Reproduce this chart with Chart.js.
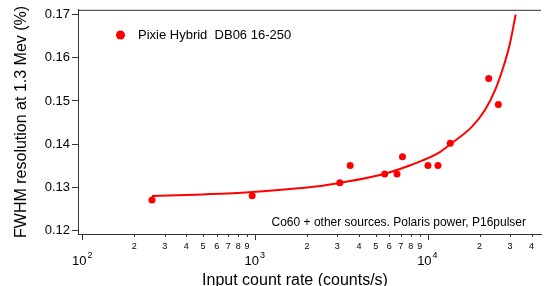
<!DOCTYPE html>
<html>
<head>
<meta charset="utf-8">
<script src="https://cdn.jsdelivr.net/npm/chart.js@4.4.0/dist/chart.umd.min.js"></script>
<style>
  html, body { margin: 0; padding: 0; background: #fff; }
</style>
</head>
<body>
<canvas id="chart" width="545" height="286"></canvas>
<script>
// measured points (input count rate, FWHM %)
var rateX = [253, 963, 3100, 3560, 5640, 6650, 7150, 10050, 11480, 13530, 22600, 25700];
var fwhmY = [0.1271, 0.1281, 0.1311, 0.1351, 0.1331, 0.1331, 0.1371, 0.1351, 0.1351, 0.1402, 0.1552, 0.1492];

// fit curve
var fitX = [253, 500, 922, 2240, 3140, 5450, 8000, 11580, 13530, 18030, 21500, 24600, 27500, 30000, 32400];
var fitY = [0.1280, 0.1284, 0.1289, 0.1302, 0.1311, 0.1330, 0.1352, 0.1380, 0.1400, 0.1440, 0.1479, 0.1525, 0.1579, 0.1633, 0.1700];

var yTicks = [0.12, 0.13, 0.14, 0.15, 0.16, 0.17];
var xTicks = [100, 200, 300, 400, 500, 600, 700, 800, 900,
              1000, 2000, 3000, 4000, 5000, 6000, 7000, 8000, 9000,
              10000, 20000, 30000, 40000];

var legendText = 'Pixie Hybrid  DB06 16-250';
var noteText = 'Co60 + other sources. Polaris power, P16pulser';
var xTitle = 'Input count rate (counts/s)';
var yTitle = 'FWHM resolution at 1.3 Mev (%)';

var FONT = "'Liberation Sans', Arial, sans-serif";
var AXIS = '#333333';
var RED = '#ff0000';

var mantissa = function(v) {
	var e = Math.floor(Math.log10(v) + 1e-9);
	return Math.round(v / Math.pow(10, e));
};

var extras = {
	id: 'extras',
	afterDraw: function(chart) {
		var ctx = chart.ctx;
		var area = chart.chartArea;
		var xs = chart.scales.x;

		ctx.save();
		// top frame line
		ctx.strokeStyle = AXIS;
		ctx.lineWidth = 1;
		ctx.beginPath();
		ctx.moveTo(area.left, area.top + 0.5);
		ctx.lineTo(area.right, area.top + 0.5);
		ctx.stroke();

		// x tick marks, long for decades
		xTicks.forEach(function(v) {
			var px = Math.round(xs.getPixelForValue(v)) + 0.5;
			var len = mantissa(v) === 1 ? 6 : 3;
			ctx.beginPath();
			ctx.moveTo(px, area.bottom);
			ctx.lineTo(px, area.bottom + len);
			ctx.stroke();
		});

		// decade labels 10^n
		ctx.fillStyle = '#000';
		ctx.textBaseline = 'alphabetic';
		xTicks.forEach(function(v) {
			if (mantissa(v) !== 1) return;
			var px = xs.getPixelForValue(v);
			var e = Math.round(Math.log10(v));
			ctx.font = '13px ' + FONT;
			ctx.textAlign = 'right';
			ctx.fillText('10', px + 4, 265);
			ctx.font = '9px ' + FONT;
			ctx.textAlign = 'left';
			ctx.fillText(String(e), px + 5, 258);
		});

		// x title
		ctx.font = '16px ' + FONT;
		ctx.textAlign = 'center';
		ctx.fillText(xTitle, 295, 285);

		// legend
		ctx.fillStyle = RED;
		ctx.beginPath();
		ctx.arc(120.5, 35, 4.5, 0, Math.PI * 2);
		ctx.fill();
		ctx.fillStyle = '#000';
		ctx.font = '13px ' + FONT;
		ctx.textAlign = 'left';
		ctx.textBaseline = 'middle';
		ctx.fillText(legendText, 138, 35);

		// note
		ctx.font = '12px ' + FONT;
		ctx.textAlign = 'right';
		ctx.fillText(noteText, 526, 223);
		ctx.restore();
	}
};

var chart = new Chart(document.getElementById('chart'), {
	type: 'scatter',
	data: {
		datasets: [
			{
				label: 'fit',
				type: 'line',
				data: fitX.map(function(x, i) { return {x: x, y: fitY[i]}; }),
				borderColor: RED,
				borderWidth: 2,
				pointRadius: 0,
				fill: false,
				cubicInterpolationMode: 'monotone'
			},
			{
				label: legendText,
				data: rateX.map(function(x, i) { return {x: x, y: fwhmY[i]}; }),
				backgroundColor: RED,
				borderColor: RED,
				pointRadius: 3.5,
				pointBorderWidth: 0
			}
		]
	},
	options: {
		responsive: false,
		animation: false,
		devicePixelRatio: 1,
		layout: { padding: { left: 0, top: 9, right: 0, bottom: 0 } },
		plugins: { legend: { display: false }, tooltip: { enabled: false } },
		scales: {
			x: {
				type: 'logarithmic',
				min: 94.3,
				max: 45400,
				afterBuildTicks: function(scale) {
					scale.ticks = xTicks.map(function(v) { return {value: v}; });
				},
				afterFit: function(scale) { scale.height = 52; },
				grid: { display: true, drawOnChartArea: false, tickLength: 4, tickColor: 'rgba(0,0,0,0)' },
				border: { color: AXIS, width: 1 },
				ticks: {
					autoSkip: false,
					maxRotation: 0,
					padding: 3,
					color: '#000',
					font: { family: FONT, size: 9 },
					callback: function(v) {
						var m = mantissa(v);
						return m === 1 ? '' : String(m);
					}
				}
			},
			y: {
				min: 0.11924,
				max: 0.17108,
				afterBuildTicks: function(scale) {
					scale.ticks = yTicks.map(function(v) { return {value: v}; });
				},
				afterFit: function(scale) { scale.width = 78; },
				grid: { drawOnChartArea: false, tickLength: 6, color: AXIS },
				border: { color: AXIS, width: 1 },
				ticks: {
					padding: 2,
					color: '#000',
					font: { family: FONT, size: 13 },
					callback: function(v) { return v.toFixed(2); }
				},
				title: {
					display: true,
					text: yTitle,
					color: '#000',
					font: { family: FONT, size: 16 },
					padding: { top: 12, bottom: 0 }
				}
			}
		}
	},
	plugins: [extras]
});
</script>
</body>
</html>
